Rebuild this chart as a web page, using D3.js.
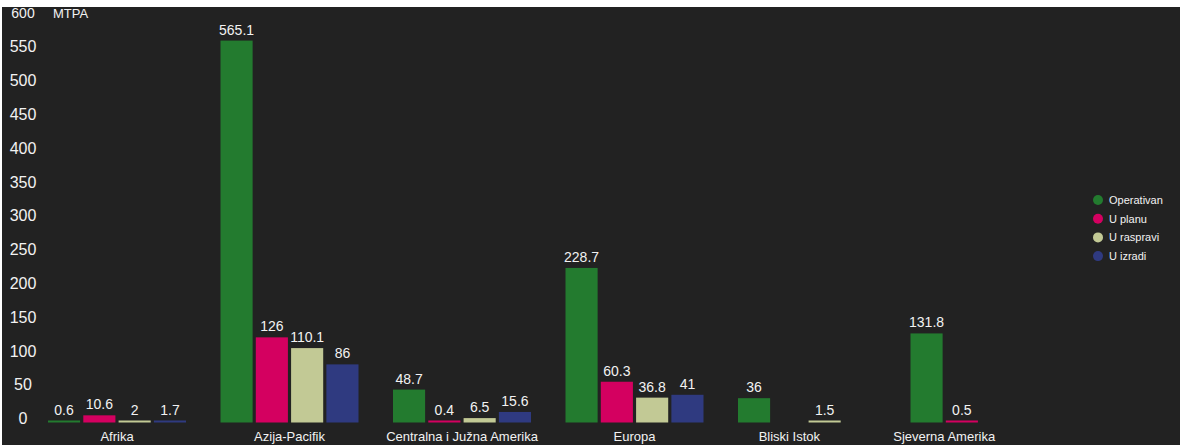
<!DOCTYPE html>
<html>
<head>
<meta charset="utf-8">
<title>MTPA po regijama</title>
<style type="text/css">
    body{
        margin: 0;
        background: #ffffff;
        font-family: "Liberation Sans", Arial, sans-serif;
    }
    .tick-label{ fill: #f2f2f2; font-size: 16px; }
    .value-label{ fill: #f2f2f2; font-size: 14px; text-anchor: middle; }
    .cat-label{ fill: #f2f2f2; font-size: 13px; text-anchor: middle; }
    .legend-label{ fill: #f2f2f2; font-size: 11px; }
</style>
</head>
<body>
<div id="chart"></div>
<script src="https://cdn.jsdelivr.net/npm/d3@7"></script>
<script>
    // regions and series
    var categories = ["Afrika", "Azija-Pacifik", "Centralna i Južna Amerika", "Europa", "Bliski Istok", "Sjeverna Amerika"];
    var seriesNames = ["Operativan", "U planu", "U raspravi", "U izradi"];
    var operativan = [0.6, 565.1, 48.7, 228.7, 36, 131.8];
    var uPlanu = [10.6, 126, 0.4, 60.3, null, 0.5];
    var uRaspravi = [2, 110.1, 6.5, 36.8, 1.5, null];
    var uIzradi = [1.7, 86, 15.6, 41, null, null];
    var yTicks = [0, 50, 100, 150, 200, 250, 300, 350, 400, 450, 500, 550, 600];
    var unitLabel = "MTPA";

    var seriesValues = [operativan, uPlanu, uRaspravi, uIzradi];
    var colors = ["#237b2f", "#d40060", "#c2c995", "#2f3a80"];

    var width = 1180, height = 445;

    var svg = d3.select("#chart").append("svg")
        .attr("width", width)
        .attr("height", height);

    // dark panel, with the thin white strip at top and left as in the picture
    svg.append("rect")
        .attr("x", 2).attr("y", 7)
        .attr("width", width - 2).attr("height", height - 7)
        .attr("fill", "#222222");

    var x = d3.scaleBand().domain(categories).range([30.75, 1065.75])
        .paddingInner(0.2).paddingOuter(0.1);
    var xs = d3.scaleBand().domain(seriesNames).range([0, x.bandwidth()])
        .paddingInner(0.09);
    var y = d3.scaleLinear().domain([0, 600]).range([422.5, 17]);

    // y tick labels (no axis line)
    svg.append("g").selectAll("text")
        .data(yTicks)
        .enter().append("text")
            .attr("class", "tick-label")
            .attr("x", 23)
            .attr("y", d => y(d) - 4)
            .attr("dy", "0.35em")
            .attr("text-anchor", "middle")
            .style("font-size", d => d === 600 ? "14px" : "16px")
            .text(d => d);

    svg.append("text")
        .attr("class", "tick-label")
        .attr("x", 53).attr("y", y(600) - 4)
        .attr("dy", "0.35em")
        .style("font-size", "13px")
        .text(unitLabel);

    // flatten into bars
    var bars = [];
    categories.forEach(function(c, i) {
        seriesNames.forEach(function(s, j) {
            var v = seriesValues[j][i];
            if (v !== null) bars.push({cat: c, series: s, idx: j, value: v});
        });
    });

    var g = svg.append("g");
    g.selectAll("rect")
        .data(bars)
        .enter().append("rect")
            .attr("x", d => x(d.cat) + xs(d.series))
            .attr("width", xs.bandwidth())
            .attr("y", d => Math.min(y(d.value), y(0) - 2))
            .attr("height", d => Math.max(2, y(0) - y(d.value)))
            .attr("fill", d => colors[d.idx]);

    g.selectAll("text")
        .data(bars)
        .enter().append("text")
            .attr("class", "value-label")
            .attr("x", d => x(d.cat) + xs(d.series) + xs.bandwidth() / 2)
            .attr("y", d => Math.min(y(d.value), y(0) - 2) - 6)
            .text(d => d.value);

    // category labels, centred under the bars that are present
    svg.append("g").selectAll("text")
        .data(categories)
        .enter().append("text")
            .attr("class", "cat-label")
            .attr("x", function(c) {
                var present = bars.filter(b => b.cat === c);
                var x0 = d3.min(present, b => x(c) + xs(b.series));
                var x1 = d3.max(present, b => x(c) + xs(b.series) + xs.bandwidth());
                return (x0 + x1) / 2;
            })
            .attr("y", 441)
            .text(d => d);

    // legend
    var legend = svg.append("g").selectAll("g")
        .data(seriesNames)
        .enter().append("g")
            .attr("transform", (d, i) => "translate(1098," + (200 + i * 18.7) + ")");
    legend.append("circle")
        .attr("r", 5)
        .attr("fill", (d, i) => colors[i]);
    legend.append("text")
        .attr("class", "legend-label")
        .attr("x", 11)
        .attr("dy", "0.35em")
        .text(d => d);
</script>
</body>
</html>
